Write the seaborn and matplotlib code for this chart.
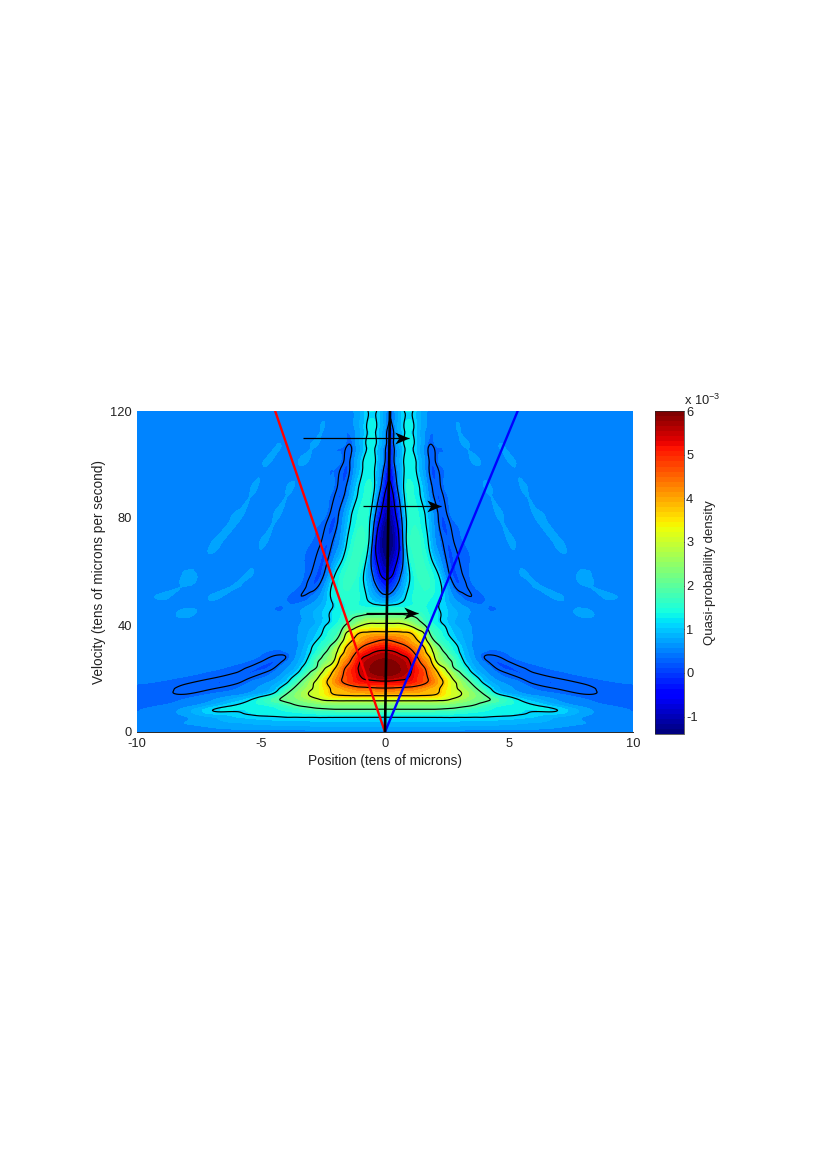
import numpy as np
import pandas as pd
import matplotlib
matplotlib.use("Agg")
import matplotlib.pyplot as plt
from matplotlib.cm import ScalarMappable
from matplotlib.colors import Normalize
from matplotlib.path import Path
from matplotlib.tri import Triangulation, UniformTriRefiner
import seaborn as sns

# distance from the centre ridge (tens of microns), one half of the map
offsets = [0, .2, .4, .6, .8, 1, 1.2, 1.4, 1.6, 1.8, 2, 2.25, 2.5, 2.75, 3, 3.5, 4, 4.5, 5, 5.5, 6, 7, 8, 9, 10.5]

# velocity of each row and where the centre of the map sits on that row
velocity = [0, 2, 4, 6, 8, 10, 12, 14, 16, 18, 20, 22, 24, 26, 28, 30, 32, 34, 37, 40, 43, 46, 50, 55, 60, 70, 80, 90, 100, 107, 113, 120]
centre = [0, 0, 0, 0, 0, 0, 0, 0, 0, 0, 0, 0, 0, 0, 0, 0, 0, 0, 0, 0, 0, .02, .04, .06, .07, .1, .13, .16, .18, .2, .21, .22]

# quasi-probability density (x 10^-3), row by row
d000 = [.5, .5, .5, .5, .5, .5, .5, .5, .5, .5, .5, .5, .5, .5, .5, .5, .5, .5, .5, .5, .5, .48, .47, .46, .45]
d002 = [.78, .78, .78, .78, .78, .78, .78, .78, .78, .78, .78, .78, .78, .78, .77, .76, .75, .74, .72, .7, .68, .62, .55, .5, .45]
d004 = [1, 1, 1, 1, 1, 1, 1, 1, 1, 1, 1, 1, 1, 1, .99, .98, .97, .95, .92, .88, .84, .72, .6, .5, .42]
d006 = [1.25, 1.25, 1.25, 1.25, 1.25, 1.25, 1.25, 1.25, 1.25, 1.25, 1.25, 1.25, 1.25, 1.24, 1.23, 1.21, 1.2, 1.17, 1.15, 1.1, 1.03, .85, .62, .46, .38]
d008 = [1.85, 1.85, 1.85, 1.85, 1.85, 1.85, 1.85, 1.85, 1.85, 1.85, 1.85, 1.83, 1.8, 1.76, 1.7, 1.55, 1.42, 1.32, 1.25, 1.21, 1.18, 1.14, .72, .48, .36]
d010 = [2.35, 2.35, 2.35, 2.35, 2.35, 2.35, 2.35, 2.35, 2.35, 2.35, 2.35, 2.33, 2.3, 2.25, 2.18, 2.03, 1.75, 1.5, 1.35, 1.25, 1.17, .82, .52, .4, .36]
d012 = [3, 3, 3, 3, 3, 3, 3, 3, 3, 3, 2.98, 2.95, 2.88, 2.72, 2.6, 2.35, 2.12, 1.85, 1.48, 1.1, .9, .58, .42, .35, .37]
d014 = [3.85, 3.85, 3.85, 3.85, 3.85, 3.85, 3.85, 3.82, 3.8, 3.77, 3.72, 3.55, 3.3, 3.1, 2.92, 2.5, 2, 1.3, .9, .7, .55, .42, .31, .34, .37]
d016 = [4.4, 4.4, 4.38, 4.35, 4.32, 4.3, 4.25, 4.15, 4.05, 3.95, 3.85, 3.65, 3.35, 3.05, 2.8, 2.3, 1.6, .9, .65, .5, .4, .3, .24, .36, .39]
d018 = [5.1, 5.1, 5.08, 5.05, 5, 4.95, 4.85, 4.72, 4.55, 4.35, 4.12, 3.8, 3.45, 3.05, 2.7, 2, 1.15, .75, .55, .42, .3, .2, .3, .38, .4]
d020 = [5.62, 5.6, 5.55, 5.5, 5.45, 5.32, 5.1, 4.9, 4.72, 4.45, 4.15, 3.75, 3.3, 2.8, 2.45, 1.6, .9, .55, .4, .3, .2, .3, .38, .42, .43]
d022 = [5.95, 5.92, 5.85, 5.75, 5.62, 5.47, 5.15, 4.95, 4.7, 4.3, 4, 3.45, 2.95, 2.55, 2.1, 1.2, .7, .42, .28, .2, .29, .38, .42, .45, .45]
d024 = [6, 5.97, 5.9, 5.8, 5.65, 5.5, 5.2, 4.85, 4.55, 4.15, 3.7, 3.05, 2.65, 2.05, 1.7, .95, .55, .28, .18, .28, .36, .43, .45, .47, .45]
d026 = [5.9, 5.88, 5.82, 5.72, 5.6, 5.42, 5, 4.6, 4.25, 3.95, 3.2, 2.6, 2.25, 1.95, 1.5, .8, .42, .2, .28, .38, .42, .46, .47, .45, .45]
d028 = [5.75, 5.72, 5.65, 5.55, 5.45, 5.2, 4.75, 4.35, 4, 3.7, 2.85, 2.45, 2.05, 1.75, 1.3, .7, .3, .27, .38, .43, .45, .46, .45, .45, .45]
d030 = [5.5, 5.48, 5.4, 5.25, 5.05, 4.8, 4.45, 4.15, 3.85, 3.15, 2.75, 2.2, 1.85, 1.45, 1.15, .65, .4, .38, .42, .45, .47, .47, .46, .45, .45]
d032 = [5.1, 5.05, 4.95, 4.8, 4.65, 4.4, 4.15, 3.95, 3.55, 2.95, 2.45, 1.95, 1.6, 1.32, 1.08, .6, .42, .42, .45, .46, .47, .47, .46, .45, .45]
d034 = [4.65, 4.6, 4.5, 4.4, 4.25, 4.05, 3.85, 3.6, 3.1, 2.55, 2, 1.65, 1.4, 1.17, .95, .6, .45, .44, .45, .46, .47, .47, .47, .47, .45]
d037 = [3.85, 3.85, 3.85, 3.82, 3.78, 3.72, 3.45, 3.1, 2.75, 2, 1.75, 1.45, 1.18, 1, .85, .6, .5, .45, .45, .47, .47, .47, .47, .47, .47]
d040 = [3, 3, 3, 3, 2.92, 2.75, 2.5, 2.25, 2, 1.65, 1.4, 1.2, 1.07, .85, .75, .58, .5, .42, .45, .47, .47, .47, .47, .47, .47]
d043 = [2.25, 2.25, 2.25, 2.25, 2.22, 2.1, 2, 1.85, 1.6, 1.4, 1.25, 1.15, 1, .85, .75, .55, .45, .42, .45, .47, .47, .47, .61, .5, .5]
d046 = [1.5, 1.5, 1.5, 1.5, 1.5, 1.5, 1.5, 1.48, 1.42, 1.32, 1.22, 1.12, .98, .82, .72, .55, .42, .4, .45, .47, .47, .5, .61, .5, .45]
d050 = [.55, .62, .78, .98, 1.18, 1.35, 1.5, 1.55, 1.5, 1.4, 1.28, 1.13, .82, .6, .45, .31, .4, .42, .45, .47, .48, .61, .5, .61, .5]
d055 = [-.3, -.1, .25, .6, 1, 1.25, 1.45, 1.6, 1.65, 1.55, 1.35, 1.08, .6, .27, .22, .4, .45, .47, .5, .52, .61, .5, .61, .5, .5]
d060 = [-.9, -.75, -.25, .3, .85, 1.3, 1.6, 1.75, 1.62, 1.42, 1.2, .7, .3, .18, .29, .43, .47, .48, .5, .61, .5, .48, .61, .5, .47]
d070 = [-1.4, -1.25, -.8, .15, 1.3, 1.65, 1.75, 1.5, 1.25, .85, .55, .3, .2, .32, .38, .47, .47, .48, .61, .5, .47, .61, .48, .45, .45]
d080 = [-1.25, -.95, -.3, .6, 1.35, 1.55, 1.45, 1.25, 1, .65, .33, .2, .36, .43, .47, .47, .47, .61, .48, .48, .61, .48, .45, .45, .45]
d090 = [-.75, -.35, .45, 1.15, 1.45, 1.4, 1.2, .95, .55, .27, .22, .38, .43, .47, .48, .48, .61, .48, .47, .61, .48, .45, .45, .45, .45]
d100 = [-.3, .3, .75, 1.2, 1.35, 1.25, .95, .65, .3, .23, .38, .43, .47, .5, .5, .61, .48, .47, .61, .47, .45, .45, .45, .45, .45]
d107 = [-.05, .45, .85, 1.18, 1.25, 1.1, .8, .55, .28, .36, .42, .46, .5, .52, .61, .5, .48, .61, .45, .45, .45, .45, .45, .45, .45]
d113 = [.05, .55, .9, 1.18, 1.22, 1.08, .8, .62, .46, .42, .45, .48, .5, .61, .5, .48, .45, .45, .45, .45, .45, .45, .45, .45, .45]
d120 = [.3, .65, .95, 1.18, 1.2, 1.05, .8, .65, .55, .5, .48, .48, .55, .52, .5, .48, .45, .45, .45, .45, .45, .45, .45, .45, .45]

rows = [d000, d002, d004, d006, d008, d010, d012, d014, d016, d018, d020, d022, d024, d026, d028, d030,
        d032, d034, d037, d040, d043, d046, d050, d055, d060, d070, d080, d090, d100, d107, d113, d120]

# lines drawn on top
line_velocity = [0, 120]
red_x = [0, -4.43]
blue_x = [0, 5.35]
black_x = [0, .2]

# arrows
arrow_y = [110, 84.5, 44.5]
arrow_start = [-3.3, -.9, -.77]
arrow_end = [.97, 2.25, 1.33]

contour_levels = [-.55, .3, 1.15, 2, 2.85, 3.7, 4.55, 5.4]
fill_levels = np.arange(-1.4, 6.01, .2)

sns.set_theme(style="ticks")
plt.rcParams["font.family"] = ["Liberation Sans"]
plt.rcParams["mathtext.default"] = "regular"
plt.rcParams["axes.unicode_minus"] = False
plt.rcParams["xtick.direction"] = "in"
plt.rcParams["ytick.direction"] = "in"
plt.rcParams["axes.linewidth"] = 0.7

# mirror the half table around the centre of each row
table = np.array(rows)
u = np.array(offsets)
signed = np.concatenate([-u[:0:-1], u])
density = np.hstack([table[:, :0:-1], table])
V = np.tile(np.array(velocity)[:, None], (1, signed.size))
X = np.array(centre)[:, None] + signed

# split the grid cells along the direction the lobes run, then let matplotlib smooth the contours
n_rows, n_cols = density.shape
triangles = []
for i in range(n_rows - 1):
    for j in range(n_cols - 1):
        a, b = i * n_cols + j, i * n_cols + j + 1
        c, d = a + n_cols, b + n_cols
        if signed[j] < 0:
            triangles += [[a, b, d], [a, d, c]]
        else:
            triangles += [[a, b, c], [b, d, c]]
tri = Triangulation(X.ravel(), V.ravel(), triangles)
tri_fine, density_fine = UniformTriRefiner(tri).refine_field(density.ravel(), subdiv=3)

jet = plt.get_cmap("jet", 64)
norm = Normalize(-1.4, 6)

fig = plt.figure(figsize=(8.17, 11.57), dpi=100)
W, H = 817, 1157
ax = fig.add_axes([137 / W, 1 - 732 / H, 496 / W, 321 / H])
cax = fig.add_axes([655 / W, 1 - 734 / H, 29 / W, 323 / H])

ax.tricontourf(tri_fine, density_fine, levels=fill_levels, cmap=jet, norm=norm, antialiased=False, extend="both")
ax.tricontour(tri_fine, density_fine, levels=contour_levels, colors="black", linewidths=0.85, linestyles="solid")

df_lines = pd.DataFrame({"velocity": line_velocity, "red": red_x, "blue": blue_x, "black": black_x})
sns.lineplot(data=df_lines, x="red", y="velocity", color="#ff0000", linewidth=1.7, sort=False, estimator=None, ax=ax)
sns.lineplot(data=df_lines, x="blue", y="velocity", color="#0000ff", linewidth=1.7, sort=False, estimator=None, ax=ax)
sns.lineplot(data=df_lines, x="black", y="velocity", color="black", linewidth=1.9, sort=False, estimator=None, ax=ax)

# arrow shafts and notched heads
ax.hlines(arrow_y, arrow_start, arrow_end, color="black", linewidth=0.9)
head = Path([(0, 0), (-1, .42), (-.72, 0), (-1, -.42), (0, 0)], closed=True)
sns.scatterplot(x=arrow_end, y=arrow_y, marker=head, s=420, color="black", linewidth=0, ax=ax, zorder=5)

ax.set_xlim(-10, 10)
ax.set_ylim(0, 120)
ax.set_xticks([-10, -5, 0, 5, 10])
ax.set_yticks([0, 40, 80, 120])
ax.tick_params(labelsize=9.3, length=0, pad=4.5, labelcolor="#222222")
ax.tick_params(axis="y", pad=3.5)
ax.set_xlabel("Position (tens of microns)", fontsize=9.8, color="#222222", labelpad=3)
ax.set_ylabel("Velocity (tens of microns per second)", fontsize=9.8, color="#222222", labelpad=3.5)
ax.spines["top"].set_visible(False)
ax.spines["right"].set_visible(False)
ax.spines["left"].set_visible(False)

cb = fig.colorbar(ScalarMappable(norm=norm, cmap=jet), cax=cax)
cb.set_ticks([-1, 0, 1, 2, 3, 4, 5, 6])
cb.ax.tick_params(labelsize=9.3, length=3, width=0.6, direction="in", left=True, right=True, pad=1.5, labelcolor="#222222")
cb.outline.set_linewidth(0.5)
cb.set_label("Quasi-probability density", fontsize=9.5, color="#222222", labelpad=4.5)
fig.text(684 / W, 1 - 405 / H, "x 10$^{-3}$", fontsize=9.3, color="#222222", ha="left", va="baseline")

fig.savefig("out.png", dpi=100)
